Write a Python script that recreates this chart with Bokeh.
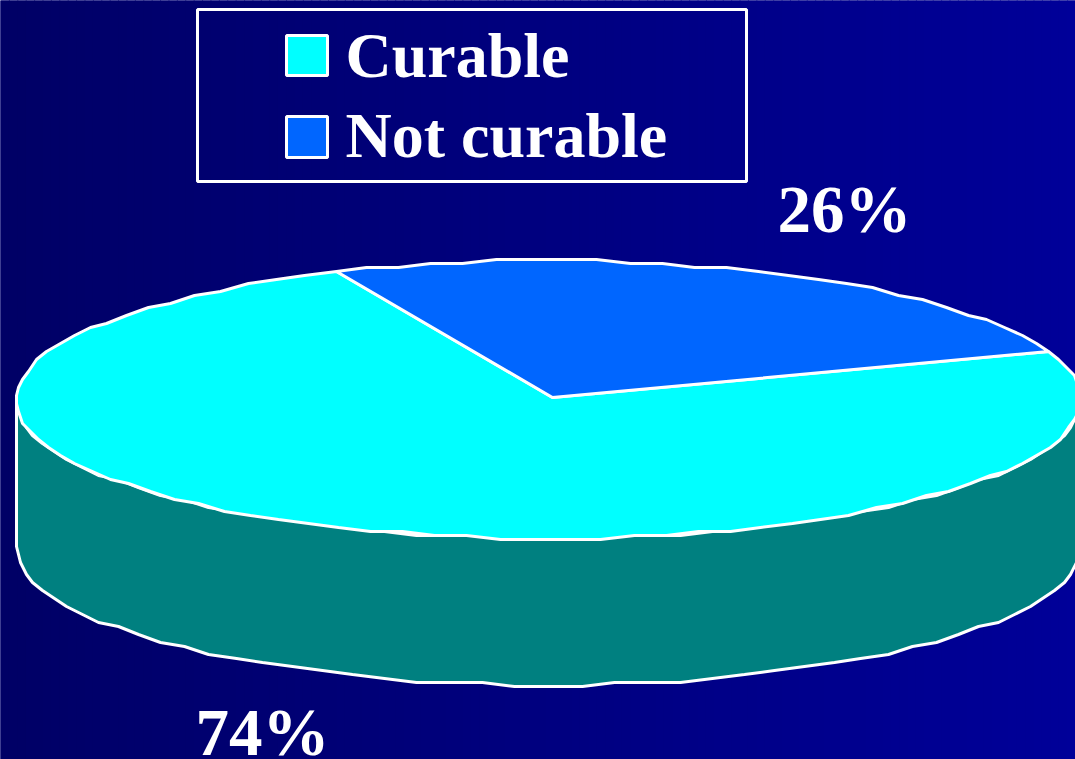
import numpy as np
from bokeh.plotting import figure
from bokeh.models import Range1d
from bokeh.core.properties import value
from bokeh.embed import file_html
from bokeh.resources import INLINE

categories = ["Curable", "Not curable"]
shares = [74, 26]
labels = ["74%", "26%"]
colors = ["#00FFFF", "#0066FF"]
side_color = "#008080"

W, H = 1075, 759
p = figure(width=W, height=H, x_range=Range1d(0, W), y_range=Range1d(H, 0),
           toolbar_location=None, output_backend="svg", min_border=0,
           outline_line_color=None, background_fill_color="#000080",
           border_fill_color="#000066")
p.axis.visible = False
p.grid.visible = False

# background gradient, left to right
n = 128
edges = np.linspace(0, W, n + 1)
blues = np.linspace(0x66, 0x99, n).astype(int)
lefts = edges[:-1].copy()
lefts[0] = -5
rights = edges[1:] + 1
rights[-1] = W + 5
p.quad(left=lefts, right=rights, top=-5, bottom=H + 5,
       fill_color=["#0000%02X" % b for b in blues], line_color=None)

cx, cy, rx, ry = 548, 399, 532, 139
apex = (552, 397)
depth = 147
start_blue = 20.0


def rim(t0, t1, step=3.6, gx=2.0, gy=4.0):
    t = np.radians(np.append(np.arange(t0, t1, step), t1))
    x = cx + rx * np.cos(t)
    y = cy - ry * np.sin(t)
    x = (cx - rx) + np.round((x - (cx - rx)) / gx) * gx
    y = cy + np.round((y - cy) / gy) * gy
    return x, y


xs, ys = rim(180, 360)
side_x = np.concatenate([xs, xs[::-1]])
side_y = np.concatenate([ys, ys[::-1] + depth])
p.patch(side_x, side_y, fill_color=side_color, line_color="white", line_width=3)

sweep_blue = shares[1] / sum(shares) * 360
sweep_cyan = shares[0] / sum(shares) * 360
t0_cyan = start_blue + sweep_blue
for t0, sweep, col in [(t0_cyan, sweep_cyan, colors[0]), (start_blue, sweep_blue, colors[1])]:
    x, y = rim(t0, t0 + sweep)
    p.patch(np.r_[apex[0], x], np.r_[apex[1], y], fill_color=col, line_color="white", line_width=3)

serif = value("Liberation Serif")
p.text(x=[777], y=[245], text=[labels[1]], text_font=serif, text_font_style="bold",
       text_font_size="67px", text_color="white", text_baseline="bottom")
p.text(x=[195], y=[768], text=[labels[0]], text_font=serif, text_font_style="bold",
       text_font_size="67px", text_color="white", text_baseline="bottom")

p.quad(left=[197], right=[746], top=[9], bottom=[181], fill_color=None, line_color="white", line_width=3)
p.quad(left=[286, 286], right=[327, 327], top=[35, 116], bottom=[75, 157],
       fill_color=colors, line_color="white", line_width=3)
p.text(x=[345, 345], y=[90, 170], text=categories, text_font=serif, text_font_style="bold",
       text_font_size="64px", text_color="white", text_baseline="bottom")

open("out.html", "w").write(file_html(p, INLINE))
